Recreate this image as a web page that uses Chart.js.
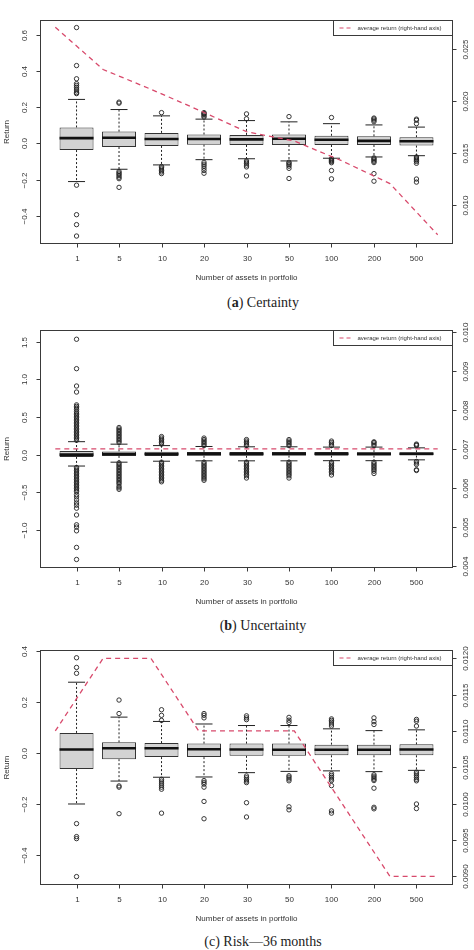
<!DOCTYPE html>
<html>
<head>
<meta charset="utf-8">
<script src="https://cdn.jsdelivr.net/npm/chart.js@4.4.1/dist/chart.umd.min.js"></script>
<style>
  body { margin: 0; background: #fff; width: 474px; height: 950px; position: relative; overflow: hidden; }
  .panel { position: absolute; left: 0; width: 474px; }
  .cap { position: absolute; left: 163px; width: 200px; text-align: center; line-height: 16px;
         font-family: "Liberation Serif", "DejaVu Serif", serif; font-size: 14px; color: #222; }
</style>
</head>
<body>
<div class="panel" style="top:0"><canvas id="chartA" width="474" height="290"></canvas></div>
<div class="cap" style="top:295px">(<b>a</b>) Certainty</div>
<div class="panel" style="top:310px"><canvas id="chartB" width="474" height="300"></canvas></div>
<div class="cap" style="top:618px">(<b>b</b>) Uncertainty</div>
<div class="panel" style="top:630px"><canvas id="chartC" width="474" height="300"></canvas></div>
<div class="cap" style="top:934px">(c) Risk—36 months</div>

<script>
// categories shared by all three panels
const categories = ['1', '5', '10', '20', '30', '50', '100', '200', '500'];

// (a) Certainty
const aQ1  = [-0.037, -0.020, -0.014, -0.007, -0.009, -0.009, -0.009, -0.009, -0.012];
const aQ3  = [0.088, 0.065, 0.058, 0.049, 0.047, 0.049, 0.042, 0.039, 0.034];
const aMed = [0.029, 0.031, 0.024, 0.024, 0.022, 0.026, 0.020, 0.014, 0.012];
const aHi  = [0.243, 0.187, 0.152, 0.134, 0.126, 0.119, 0.109, 0.102, 0.090];
const aLo  = [-0.211, -0.143, -0.119, -0.090, -0.085, -0.097, -0.082, -0.075, -0.068];
const aOut = [
  [0.64, 0.43, 0.357, 0.33, 0.32, 0.31, 0.30, 0.29, 0.28, 0.275, -0.231, -0.394, -0.449, -0.512],
  [0.228, 0.222, -0.155, -0.163, -0.17, -0.178, -0.187, -0.195, -0.243],
  [0.17, -0.128, -0.135, -0.142, -0.15, -0.158, -0.167],
  [0.17, 0.165, 0.16, 0.152, 0.145, -0.105, -0.115, -0.125, -0.137, -0.15, -0.165],
  [0.163, 0.136, -0.097, -0.103, -0.11, -0.12, -0.13, -0.18],
  [0.148, -0.104, -0.11, -0.118, -0.126, -0.138, -0.194],
  [0.143, -0.085, -0.09, -0.095, -0.1, -0.107, -0.15, -0.196],
  [0.14, 0.135, 0.128, 0.12, -0.08, -0.086, -0.092, -0.099, -0.106, -0.167, -0.209],
  [0.134, 0.128, 0.109, -0.075, -0.081, -0.087, -0.093, -0.1, -0.11, -0.197, -0.214]
];
const aAvg = [0.02704, 0.02299, 0.0211, 0.0191, 0.01703, 0.01614, 0.01423, 0.01206, 0.00715];
const aLeftTicks  = [-0.4, -0.2, 0, 0.2, 0.4, 0.6];
const aRightTicks = [0.010, 0.015, 0.020, 0.025];

// (b) Uncertainty
const bQ1  = [-0.030, -0.017, -0.017, -0.015, -0.015, -0.013, -0.013, -0.013, -0.012];
const bQ3  = [0.048, 0.043, 0.039, 0.036, 0.035, 0.035, 0.034, 0.033, 0.032];
const bMed = [0.000, 0.009, 0.009, 0.010, 0.010, 0.011, 0.011, 0.011, 0.011];
const bHi  = [0.172, 0.139, 0.120, 0.108, 0.104, 0.104, 0.100, 0.100, 0.090];
const bLo  = [-0.151, -0.100, -0.087, -0.082, -0.082, -0.082, -0.080, -0.080, -0.069];
const bOut = [
  [0.19, 0.21, 0.23, 0.25, 0.27, 0.29, 0.31, 0.33, 0.35, 0.37, 0.39, 0.41, 0.43, 0.45, 0.47, 0.49,
   0.51, 0.53, 0.55, 0.57, 0.60, 0.62, 0.64, 0.66, 0.83, 0.91, 1.14, 1.53,
   -0.17, -0.19, -0.21, -0.23, -0.25, -0.27, -0.29, -0.31, -0.33, -0.35, -0.37, -0.39, -0.41,
   -0.43, -0.45, -0.47, -0.49, -0.53, -0.56, -0.60, -0.64, -0.67, -0.71, -0.80, -0.93, -0.96,
   -1.01, -1.23, -1.39],
  [0.16, 0.18, 0.20, 0.22, 0.24, 0.26, 0.28, 0.30, 0.32, 0.34, 0.36,
   -0.11, -0.13, -0.15, -0.17, -0.19, -0.21, -0.23, -0.25, -0.27, -0.29, -0.31, -0.33, -0.35,
   -0.37, -0.39, -0.42, -0.44, -0.46],
  [0.14, 0.16, 0.18, 0.20, 0.22, 0.24,
   -0.10, -0.12, -0.14, -0.16, -0.18, -0.20, -0.22, -0.24, -0.26, -0.28, -0.30, -0.32, -0.34, -0.36],
  [0.12, 0.14, 0.16, 0.18, 0.20, 0.22,
   -0.10, -0.12, -0.14, -0.16, -0.18, -0.20, -0.22, -0.24, -0.26, -0.28, -0.30, -0.32, -0.34],
  [0.12, 0.14, 0.16, 0.18, 0.20,
   -0.10, -0.12, -0.14, -0.16, -0.18, -0.20, -0.22, -0.24, -0.26, -0.28, -0.31],
  [0.12, 0.14, 0.16, 0.18, 0.20,
   -0.10, -0.12, -0.14, -0.16, -0.18, -0.20, -0.22, -0.24, -0.26, -0.28, -0.31],
  [0.12, 0.14, 0.16, 0.18,
   -0.10, -0.12, -0.14, -0.16, -0.18, -0.20, -0.22, -0.24, -0.27],
  [0.12, 0.14, 0.16, 0.17,
   -0.10, -0.12, -0.14, -0.16, -0.18, -0.20, -0.22, -0.25],
  [0.12, 0.13, 0.14, -0.09, -0.11, -0.13, -0.20, -0.21]
];
const bAvg = [0.0070, 0.0070, 0.0070, 0.0070, 0.0070, 0.0070, 0.0070, 0.0070, 0.0070];
const bLeftTicks  = [-1.0, -0.5, 0, 0.5, 1.0, 1.5];
const bRightTicks = [0.004, 0.005, 0.006, 0.007, 0.008, 0.009, 0.010];

// (c) Risk - 36 months
const cQ1  = [-0.063, -0.024, -0.016, -0.016, -0.011, -0.011, -0.009, -0.009, -0.009];
const cQ3  = [0.079, 0.042, 0.039, 0.037, 0.037, 0.037, 0.033, 0.033, 0.034];
const cMed = [0.014, 0.019, 0.019, 0.015, 0.014, 0.013, 0.013, 0.013, 0.014];
const cHi  = [0.278, 0.141, 0.124, 0.114, 0.108, 0.108, 0.095, 0.088, 0.091];
const cLo  = [-0.200, -0.110, -0.095, -0.094, -0.077, -0.072, -0.070, -0.073, -0.068];
const cOut = [
  [0.374, 0.336, 0.313, -0.277, -0.328, -0.336, -0.485],
  [0.208, 0.155, -0.129, -0.134, -0.238],
  [0.17, 0.148, 0.128, -0.103, -0.11, -0.118, -0.126, -0.134, -0.142, -0.236],
  [0.155, 0.148, 0.138, -0.108, -0.115, -0.122, -0.134, -0.19, -0.258],
  [0.146, 0.138, 0.131, -0.09, -0.097, -0.104, -0.11, -0.116, -0.195, -0.251],
  [0.14, 0.129, 0.12, -0.089, -0.095, -0.102, -0.109, -0.211, -0.223],
  [0.134, 0.128, 0.122, 0.114, 0.106, -0.081, -0.088, -0.095, -0.102, -0.108, -0.128, -0.227, -0.236],
  [0.138, 0.123, 0.112, -0.085, -0.091, -0.097, -0.103, -0.108, -0.138, -0.213, -0.219],
  [0.132, 0.125, 0.106, -0.075, -0.082, -0.089, -0.096, -0.103, -0.109, -0.2, -0.218]
];
const cAvg = [0.0110, 0.0120, 0.0120, 0.0110, 0.0110, 0.0110, 0.0100, 0.0090, 0.0090];
const cLeftTicks  = [-0.4, -0.2, 0, 0.2, 0.4];
const cRightTicks = [0.0090, 0.0095, 0.0100, 0.0105, 0.0110, 0.0115, 0.0120];

const RED = '#d84a6c';
const INK = '#333';
const FONT = '"Liberation Sans", Arial, sans-serif';

function fmt(v, d) {
  return v.toFixed(d).replace('-', '\u2212');
}

// R-style frame, rotated tick labels, axis titles and legend
const rAxes = {
  id: 'rAxes',
  afterDraw(chart, args, o) {
    const { ctx, chartArea: a, scales } = chart;
    const L = Math.round(a.left) + 0.5, R = Math.round(a.right) - 0.5;
    const T = Math.round(a.top) + 0.5, B = Math.round(a.bottom) - 0.5;
    const rot = (txt, x, y) => {
      ctx.save(); ctx.translate(x, y); ctx.rotate(-Math.PI / 2); ctx.fillText(txt, 0, 0); ctx.restore();
    };
    ctx.save();
    ctx.strokeStyle = '#3a3a3a';
    ctx.lineWidth = 1;
    ctx.strokeRect(L, T, R - L, B - T);

    ctx.fillStyle = INK;
    ctx.font = '8px ' + FONT;
    ctx.textAlign = 'center';
    ctx.textBaseline = 'middle';
    ctx.beginPath();
    o.left.forEach(v => {
      const y = Math.round(scales.y.getPixelForValue(v)) + 0.5;
      ctx.moveTo(L - 4, y); ctx.lineTo(L, y);
      rot(fmt(v, 1), 25, y);
    });
    o.right.forEach(v => {
      const y = Math.round(scales.y2.getPixelForValue(v)) + 0.5;
      ctx.moveTo(R, y); ctx.lineTo(R + 4, y);
      rot(fmt(v, o.rightDigits), 466, y);
    });
    categories.forEach((c, i) => {
      const x = Math.round(scales.x.getPixelForValue(i + 1)) + 0.5;
      ctx.moveTo(x, B); ctx.lineTo(x, B + 4);
      ctx.fillText(c, x, B + 15);
    });
    ctx.stroke();

    ctx.fillText('Number of assets in portfolio', (L + R) / 2, B + 34);
    rot('Return', 7, (T + B) / 2);

    // legend box, top right
    const lw = 119, lh = 15, lx = R - lw;
    ctx.fillStyle = '#fff';
    ctx.fillRect(lx, T, lw, lh);
    ctx.strokeRect(lx, T, lw, lh);
    ctx.beginPath();
    ctx.strokeStyle = RED;
    ctx.lineWidth = 1.2;
    ctx.setLineDash([4, 3]);
    ctx.moveTo(lx + 6, T + lh / 2); ctx.lineTo(lx + 20, T + lh / 2);
    ctx.stroke();
    ctx.setLineDash([]);
    ctx.fillStyle = INK;
    ctx.font = '6px ' + FONT;
    ctx.textAlign = 'left';
    ctx.fillText('average return (right-hand axis)', lx + 24, T + lh / 2 + 0.5);
    ctx.restore();
  }
};

function makePanel(id, p) {
  const pos = categories.map((c, i) => i + 1);
  const boxes = pos.map((x, i) => ({ x, y: [p.q1[i], p.q3[i]] }));
  const medians = pos.map((x, i) => ({ x, y: p.med[i] }));
  const caps = pos.flatMap((x, i) => [{ x, y: p.hi[i] }, { x, y: p.lo[i] }]);
  const whiskers = pos.flatMap((x, i) => [
    { x, y: p.q3[i] }, { x, y: p.hi[i] }, { x, y: null },
    { x, y: p.q1[i] }, { x, y: p.lo[i] }, { x, y: null }
  ]);
  const outliers = pos.flatMap((x, i) => p.out[i].map(v => ({ x, y: v })));
  const avg = p.avg.map((v, i) => ({ x: i + 1, y: v }));

  return new Chart(document.getElementById(id), {
    type: 'bar',
    data: {
      datasets: [
        { type: 'line', label: 'whiskers', data: whiskers, borderColor: '#222', borderWidth: 1,
          borderDash: [2, 2], pointRadius: 0, spanGaps: false, order: 6 },
        { type: 'bar', label: 'boxes', data: boxes, backgroundColor: '#d3d3d3', borderColor: '#333',
          borderWidth: 1, borderSkipped: false, grouped: false,
          barPercentage: 1, categoryPercentage: 0.8, order: 5 },
        { type: 'scatter', label: 'caps', data: caps, pointStyle: 'line', pointRadius: 8.5,
          borderColor: '#222', pointBorderColor: '#222', pointBorderWidth: 1, order: 4 },
        { type: 'scatter', label: 'median', data: medians, pointStyle: 'line', pointRadius: 17,
          borderColor: '#111', pointBorderColor: '#111', pointBorderWidth: 2.6, order: 3 },
        { type: 'scatter', label: 'outliers', data: outliers, pointStyle: 'circle', pointRadius: 2.2,
          borderColor: '#222', pointBorderColor: '#222', pointBorderWidth: 0.9,
          backgroundColor: 'rgba(0,0,0,0)', pointBackgroundColor: 'rgba(0,0,0,0)', order: 2 },
        { type: 'line', label: 'average return (right-hand axis)', data: avg, xAxisID: 'x2', yAxisID: 'y2',
          borderColor: RED, borderWidth: 1.3, borderDash: [5, 4], pointRadius: 0, tension: 0, order: 1 }
      ]
    },
    options: {
      responsive: false,
      animation: false,
      events: [],
      layout: { padding: { left: 40, right: 21, top: p.padTop, bottom: p.padBottom } },
      scales: {
        x:  { type: 'linear', min: 0.14, max: 9.86, offset: false, display: false },
        x2: { type: 'linear', min: 0.68, max: 9.32, offset: false, display: false },
        y:  { type: 'linear', min: p.yMin, max: p.yMax, display: false },
        y2: { type: 'linear', position: 'right', min: p.y2Min, max: p.y2Max, display: false }
      },
      plugins: {
        legend: { display: false },
        tooltip: { enabled: false },
        rAxes: { left: p.leftTicks, right: p.rightTicks, rightDigits: p.rightDigits }
      }
    },
    plugins: [rAxes]
  });
}

makePanel('chartA', {
  q1: aQ1, q3: aQ3, med: aMed, hi: aHi, lo: aLo, out: aOut, avg: aAvg,
  yMin: -0.556, yMax: 0.684, y2Min: 0.00627, y2Max: 0.02777,
  leftTicks: aLeftTicks, rightTicks: aRightTicks, rightDigits: 3, padTop: 1, padBottom: 46
});
makePanel('chartB', {
  q1: bQ1, q3: bQ3, med: bMed, hi: bHi, lo: bLo, out: bOut, avg: bAvg,
  yMin: -1.503, yMax: 1.658, y2Min: 0.00395, y2Max: 0.01005,
  leftTicks: bLeftTicks, rightTicks: bRightTicks, rightDigits: 3, padTop: 14, padBottom: 42
});
makePanel('chartC', {
  q1: cQ1, q3: cQ3, med: cMed, hi: cHi, lo: cLo, out: cOut, avg: cAvg,
  yMin: -0.518, yMax: 0.406, y2Min: 0.00888, y2Max: 0.01212,
  leftTicks: cLeftTicks, rightTicks: cRightTicks, rightDigits: 4, padTop: 12, padBottom: 45
});
</script>
</body>
</html>
